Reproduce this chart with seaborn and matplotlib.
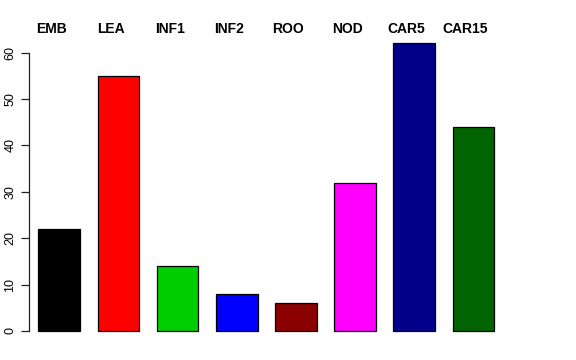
import numpy as np
import pandas as pd
import seaborn as sns
import matplotlib.pyplot as plt
from matplotlib import transforms

samples = ["EMB", "LEA", "INF1", "INF2", "ROO", "NOD", "CAR5", "CAR15"]
counts = [22, 55, 14, 8, 6, 32, 62, 44]
bar_colors = ["#000000", "#FF0000", "#00CD00", "#0000FF", "#8B0000", "#FF00FF", "#00008B", "#006400"]

df = pd.DataFrame({"sample": samples, "count": counts})

sns.set_style("white")
plt.rcParams["font.family"] = ["Liberation Sans", "DejaVu Sans"]
plt.rcParams["text.color"] = "black"
plt.rcParams["ytick.color"] = "black"

fig = plt.figure(figsize=(5.76, 3.6), dpi=100)
ax = fig.add_axes([29 / 576, 17.5 / 360, 474.8 / 576, 310.7 / 360])

sns.barplot(data=df, x="sample", y="count", hue="sample", palette=bar_colors,
            legend=False, width=0.705, edgecolor="black", linewidth=0.9,
            saturation=1, ax=ax)

ax.set_xlim(-0.512, 7.512)
ax.set_ylim(-2.48, 64.48)

# R-style left axis: spine only over tick range, vertical labels
for s in ["top", "right", "bottom"]:
    ax.spines[s].set_visible(False)
ax.spines["left"].set_bounds(0, 60)
ax.spines["left"].set_color("#222222")
ax.spines["left"].set_linewidth(0.9)
ax.set_yticks(range(0, 61, 10))
ax.tick_params(axis="y", left=True, length=6, width=0.9, color="#222222",
               labelcolor="black", labelsize=9, pad=3, labelrotation=90)
for lab in ax.get_yticklabels():
    lab.set_va("center")
ax.set_xticks([])
ax.set_xlabel("")
ax.set_ylabel("")

# sample names above the bars (slightly left of bar centres, as in the original)
trans = transforms.blended_transform_factory(ax.transData, ax.transAxes)
for i, name in enumerate(samples):
    ax.text(i - 0.135, 1.009, name, transform=trans, ha="center", va="center",
            fontsize=10, fontweight="bold", color="black")

fig.savefig("out.png", dpi=100)
